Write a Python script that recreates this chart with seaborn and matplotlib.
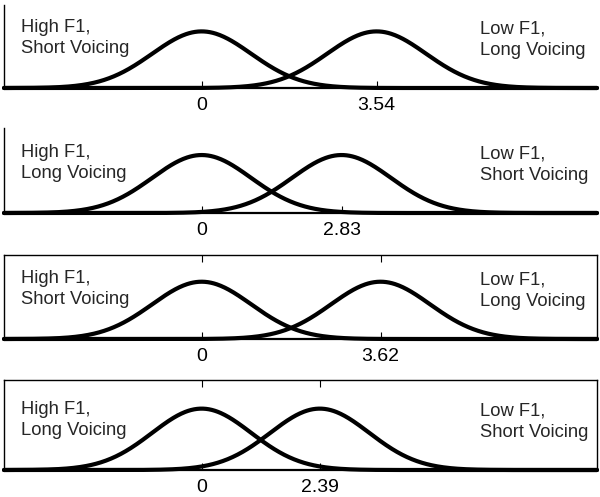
import numpy as np
import pandas as pd
import matplotlib
matplotlib.use("Agg")
import matplotlib.pyplot as plt
import seaborn as sns

# ---- data ----
left_means = [0.0, 0.0, 0.0, 0.0]
right_means = [3.54, 2.83, 3.62, 2.39]
sd = 1.0
tick_labels = [["0", "3.54"], ["0", "2.83"], ["0", "3.62"], ["0", "2.39"]]
left_labels = [["High F1,", "Short Voicing"], ["High F1,", "Long Voicing"],
               ["High F1,", "Short Voicing"], ["High F1,", "Long Voicing"]]
right_labels = [["Low F1,", "Long Voicing"], ["Low F1,", "Short Voicing"],
                ["Low F1,", "Long Voicing"], ["Low F1,", "Short Voicing"]]
boxed = [False, False, True, True]

sns.set_style("white")
plt.rcParams['font.family'] = ['Liberation Sans', 'DejaVu Sans']

W, H = 600, 497
fig = plt.figure(figsize=(6.0, 4.97), dpi=100)

# axes pixel boxes (left, top, right, bottom)
boxes = [(4, 5, 597, 88), (4, 128, 597, 213), (4, 255, 597, 339), (4, 380, 597, 470)]

x = np.linspace(-4, 8, 600)
for i, (l, t, r, b) in enumerate(boxes):
    ax = fig.add_axes([l / W, 1 - b / H, (r - l) / W, (b - t) / H])
    rows = []
    for name, m in (("a", left_means[i]), ("b", right_means[i])):
        y = np.exp(-0.5 * ((x - m) / sd) ** 2) / (sd * np.sqrt(2 * np.pi))
        rows.append(pd.DataFrame({"x": x, "y": y, "g": name}))
    df = pd.concat(rows)
    sns.lineplot(data=df, x="x", y="y", units="g", estimator=None, color="black",
                 linewidth=3, ax=ax, clip_on=False)
    ax.set_xlim(-4, 8)
    ax.set_ylim(0, 0.585)
    ax.set_xlabel("")
    ax.set_ylabel("")
    ax.set_yticks([])
    ax.set_xticks([left_means[i], right_means[i]])
    ax.set_xticklabels(tick_labels[i], fontsize=14)
    for s in ax.spines.values():
        s.set_color("black")
        s.set_linewidth(1.0)
    ax.spines["bottom"].set_linewidth(1.6)
    if boxed[i]:
        ax.tick_params(axis="x", direction="in", length=5, width=0.8, top=True,
                       bottom=True, pad=6.5, colors="black")
    else:
        ax.spines["top"].set_visible(False)
        ax.spines["right"].set_visible(False)
        ax.tick_params(axis="x", direction="in", length=5, width=0.8, top=False,
                       bottom=True, pad=6.5, colors="black")
    ht = (b - t)
    for line, off in zip(left_labels[i], (56.0, 35.0)):
        ax.text(0.029, off / ht, line, transform=ax.transAxes, fontsize=13.2,
                va="baseline", ha="left")
    for line, off in zip(right_labels[i], (54.7, 33.0)):
        ax.text(0.803, off / ht, line, transform=ax.transAxes, fontsize=13.2,
                va="baseline", ha="left")
    ax.set_facecolor("white")

fig.savefig("out.png", dpi=100, facecolor="white")
